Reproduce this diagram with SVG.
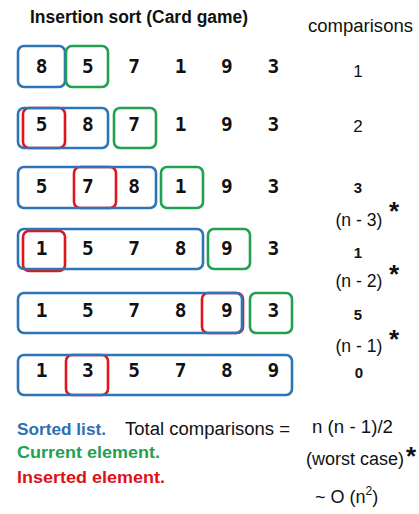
<svg xmlns="http://www.w3.org/2000/svg" width="419" height="514" viewBox="0 0 419 514">
<style>
.bg{fill:#ffffff}
.b{fill:none;stroke:#2E75B6;stroke-width:2.6}
.g{fill:none;stroke:#22A052;stroke-width:2.6}
.r{fill:none;stroke:#E0161C;stroke-width:2.6}
.d{font-family:"DejaVu Sans Mono","Liberation Mono",monospace;font-weight:bold;font-size:19.5px;fill:#111;text-anchor:middle}
.t{font-family:"Liberation Sans",Arial,sans-serif;font-size:18px;fill:#111}
.c{font-family:"Liberation Sans",Arial,sans-serif;font-size:17px;fill:#111;text-anchor:middle}
.cb{font-family:"Liberation Sans",Arial,sans-serif;font-size:15px;font-weight:bold;fill:#111;text-anchor:middle}
.s{font-family:"Liberation Sans",Arial,sans-serif;font-size:26px;font-weight:bold;fill:#111;text-anchor:middle}
.lg{font-family:"Liberation Sans",Arial,sans-serif;font-size:17px;font-weight:bold}
</style>
<rect class="bg" x="0" y="0" width="419" height="514"/>
<text id="title" class="t" x="30" y="23" font-weight="bold" font-size="17" textLength="218" lengthAdjust="spacingAndGlyphs">Insertion sort (Card game)</text>
<text id="hdr" class="t" x="308" y="32" textLength="105" lengthAdjust="spacingAndGlyphs">comparisons</text>

<g id="row1">
<rect class="b" x="18" y="46" width="47" height="41" rx="6"/>
<rect class="g" x="66" y="46" width="42" height="41" rx="6"/>
<text class="d" y="73"><tspan x="41.5">8</tspan><tspan x="87.9">5</tspan><tspan x="134.2">7</tspan><tspan x="180.6">1</tspan><tspan x="226.9">9</tspan><tspan x="273.3">3</tspan></text>
<text class="c" x="358" y="77">1</text>
</g>

<g id="row2">
<rect class="r" x="23" y="108" width="42" height="40" rx="6"/>
<rect class="b" x="18" y="108" width="90" height="40" rx="6"/>
<rect class="g" x="114" y="108" width="42" height="40" rx="6"/>
<text class="d" y="131"><tspan x="41.5">5</tspan><tspan x="87.9">8</tspan><tspan x="134.2">7</tspan><tspan x="180.6">1</tspan><tspan x="226.9">9</tspan><tspan x="273.3">3</tspan></text>
<text class="c" x="358" y="132">2</text>
</g>

<g id="row3">
<rect class="r" x="74" y="167" width="42" height="41" rx="6"/>
<rect class="b" x="18" y="167" width="138" height="41" rx="6"/>
<rect class="g" x="161" y="167" width="42" height="41" rx="6"/>
<text class="d" y="193"><tspan x="41.5">5</tspan><tspan x="87.9">7</tspan><tspan x="134.2">8</tspan><tspan x="180.6">1</tspan><tspan x="226.9">9</tspan><tspan x="273.3">3</tspan></text>
<text class="cb" x="358" y="193">3</text>
<text class="t" x="359" y="226" text-anchor="middle" textLength="47" lengthAdjust="spacingAndGlyphs">(n - 3)</text>
<text class="s" x="394" y="220">*</text>
</g>

<g id="row4">
<rect class="r" x="23" y="231" width="42" height="40" rx="6"/>
<rect class="b" x="18" y="229" width="185" height="40" rx="6"/>
<rect class="g" x="208" y="229" width="42" height="40" rx="6"/>
<text class="d" y="255"><tspan x="41.5">1</tspan><tspan x="87.9">5</tspan><tspan x="134.2">7</tspan><tspan x="180.6">8</tspan><tspan x="226.9">9</tspan><tspan x="273.3">3</tspan></text>
<text class="cb" x="358" y="258">1</text>
<text class="t" x="359" y="287" text-anchor="middle" textLength="47" lengthAdjust="spacingAndGlyphs">(n - 2)</text>
<text class="s" x="394" y="283">*</text>
</g>

<g id="row5">
<rect class="r" x="202" y="293" width="41" height="40" rx="6"/>
<rect class="b" x="18" y="293" width="224" height="40" rx="6"/>
<rect class="g" x="250" y="293" width="42" height="40" rx="6"/>
<text class="d" y="317"><tspan x="41.5">1</tspan><tspan x="87.9">5</tspan><tspan x="134.2">7</tspan><tspan x="180.6">8</tspan><tspan x="226.9">9</tspan><tspan x="273.3">3</tspan></text>
<text class="cb" x="358" y="320">5</text>
<text class="t" x="359" y="352" text-anchor="middle" textLength="47" lengthAdjust="spacingAndGlyphs">(n - 1)</text>
<text class="s" x="394" y="348">*</text>
</g>

<g id="row6">
<rect class="r" x="66" y="355" width="42" height="40" rx="6"/>
<rect class="b" x="18" y="355" width="274" height="40" rx="6"/>
<text class="d" y="377"><tspan x="41.5">1</tspan><tspan x="87.9">3</tspan><tspan x="134.2">5</tspan><tspan x="180.6">7</tspan><tspan x="226.9">8</tspan><tspan x="273.3">9</tspan></text>
<text class="cb" x="359" y="378">0</text>
</g>

<g id="legend">
<text class="lg" x="17" y="435" fill="#2E6FAE" textLength="89" lengthAdjust="spacingAndGlyphs">Sorted list.</text>
<text class="lg" x="17" y="458" fill="#22A052" textLength="143" lengthAdjust="spacingAndGlyphs">Current element.</text>
<text class="lg" x="17" y="483" fill="#E0101A" textLength="148" lengthAdjust="spacingAndGlyphs">Inserted element.</text>
</g>

<g id="total">
<text class="t" x="125" y="435" textLength="165" lengthAdjust="spacingAndGlyphs">Total comparisons =</text>
<text class="t" x="312" y="433" textLength="81" lengthAdjust="spacingAndGlyphs">n (n - 1)/2</text>
<text class="t" x="306" y="465" textLength="98" lengthAdjust="spacingAndGlyphs">(worst case)</text>
<text class="s" x="411" y="465">*</text>
<text class="t" x="315" y="503">~ O (n<tspan font-size="12" dy="-8">2</tspan><tspan dy="8">)</tspan></text>
</g>
</svg>
